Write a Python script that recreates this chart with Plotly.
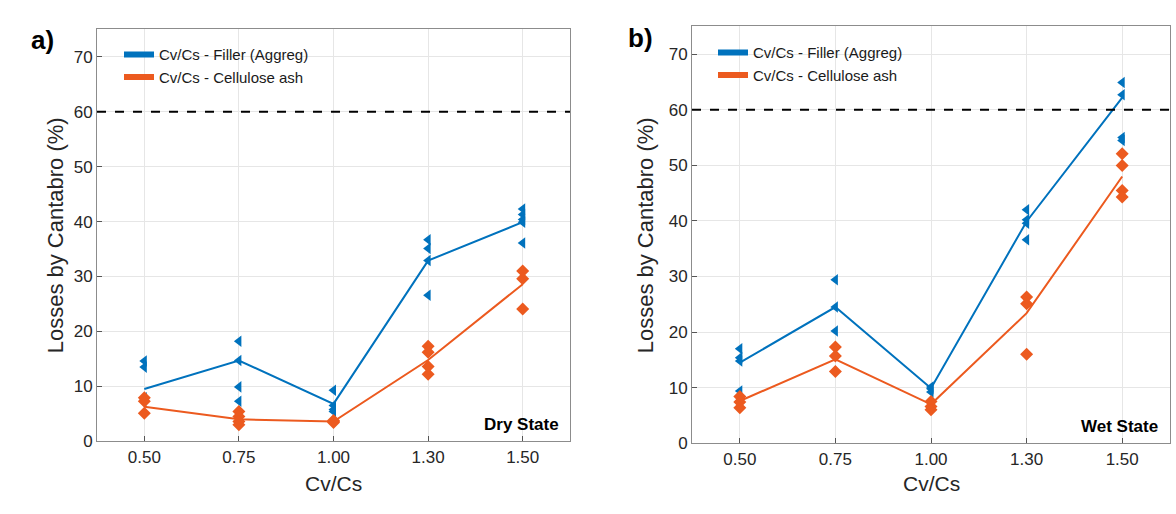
import plotly.graph_objects as go

categories = ["0.50", "0.75", "1.00", "1.30", "1.50"]
y_ticks = [0, 10, 20, 30, 40, 50, 60, 70]
limit_value = 60

# Dry state (panel a)
dry_filler_pts = {
    "0.50": [14.6, 13.5, 7.9, 7.5],
    "0.75": [18.2, 14.7, 9.9, 7.3],
    "1.00": [9.3, 6.5, 5.8, 5.4],
    "1.30": [36.7, 35.1, 32.9, 26.6],
    "1.50": [42.3, 41.3, 40.4, 39.9, 36.1],
}
dry_filler_line = [9.5, 14.7, 6.8, 32.9, 39.9]
dry_ash_pts = {
    "0.50": [7.9, 7.3, 5.1],
    "0.75": [5.4, 4.5, 3.6, 3.0],
    "1.00": [3.8, 3.6, 3.4],
    "1.30": [17.3, 16.2, 13.6, 12.2],
    "1.50": [31.0, 29.6, 24.1],
}
dry_ash_line = [6.3, 4.0, 3.6, 14.8, 28.6]

# Wet state (panel b)
wet_filler_pts = {
    "0.50": [17.0, 15.4, 14.8, 9.4],
    "0.75": [29.4, 24.5, 20.2],
    "1.00": [10.1, 9.8, 9.2],
    "1.30": [42.0, 40.2, 39.6, 36.6],
    "1.50": [64.9, 62.7, 55.0, 54.5],
}
wet_filler_line = [14.5, 24.5, 9.9, 39.9, 62.2]
wet_ash_pts = {
    "0.50": [8.4, 7.4, 6.4],
    "0.75": [17.3, 15.7, 12.9],
    "1.00": [7.5, 6.6, 6.0],
    "1.30": [26.3, 25.1, 16.0],
    "1.50": [52.1, 50.0, 45.5, 44.3],
}
wet_ash_line = [7.6, 15.1, 7.0, 23.4, 48.0]

legend_names = ["Cv/Cs - Filler (Aggreg)", "Cv/Cs - Cellulose ash"]
x_title = "Cv/Cs"
y_title = "Losses by Cantabro (%)"

BLUE = "#0072BD"
ORANGE = "#EC5A1F"
FONT = "Liberation Sans, Arial, Helvetica, sans-serif"

fig = go.Figure()

def flatten(pts):
    xs, ys = [], []
    for c in categories:
        for v in pts[c]:
            xs.append(c)
            ys.append(v)
    return xs, ys

panels = [
    ("x", "y", "legend", dry_filler_pts, dry_filler_line, dry_ash_pts, dry_ash_line),
    ("x2", "y2", "legend2", wet_filler_pts, wet_filler_line, wet_ash_pts, wet_ash_line),
]

shapes = []
for xa, ya, lg, fpts, fline, apts, aline in panels:
    # 60% limit line
    shapes.append(dict(type="line", xref=f"{xa} domain", yref=ya, x0=0, x1=1,
                       y0=limit_value, y1=limit_value, layer="above",
                       line=dict(color="black", width=2, dash="dash")))
    for pts, line, color, sym, name in [
        (fpts, fline, BLUE, "triangle-left", legend_names[0]),
        (apts, aline, ORANGE, "diamond", legend_names[1]),
    ]:
        fig.add_trace(go.Scatter(
            x=categories, y=line, mode="lines", xaxis=xa, yaxis=ya,
            line=dict(color=color, width=2), showlegend=False, hoverinfo="skip"))
        xs, ys = flatten(pts)
        fig.add_trace(go.Scatter(
            x=xs, y=ys, mode="markers", xaxis=xa, yaxis=ya,
            marker=dict(symbol=sym, size=10, color=color, line=dict(width=0)),
            showlegend=False))
    # legend entries (thick short lines)
    for color, name in [(BLUE, legend_names[0]), (ORANGE, legend_names[1])]:
        fig.add_trace(go.Scatter(
            x=[None], y=[None], mode="lines", xaxis=xa, yaxis=ya,
            line=dict(color=color, width=6), name=name, legend=lg))

W, H = 1176, 514

def px_x(a, b):
    return [a / W, b / W]

def px_y(top, bottom):
    return [(H - bottom) / H, (H - top) / H]

axis_common = dict(
    showgrid=True, gridcolor="#E6E6E6", gridwidth=1,
    showline=True, linecolor="#8C8C8C", linewidth=1, mirror=True,
    ticks="inside", ticklen=5, tickcolor="#555555",
    tickfont=dict(family=FONT, size=17, color="#262626"),
    zeroline=False,
)

fig.update_layout(
    width=W, height=H,
    margin=dict(l=0, r=0, t=0, b=0),
    paper_bgcolor="white", plot_bgcolor="white",
    font=dict(family=FONT, color="#262626"),
    xaxis=dict(domain=px_x(97, 570), type="category", categoryorder="array",
               categoryarray=categories, range=[-0.5, 4.5], anchor="y", **axis_common),
    yaxis=dict(domain=px_y(30, 450), range=[0, 75], tickvals=y_ticks, anchor="x",
               **axis_common),
    xaxis2=dict(domain=px_x(692, 1170), type="category", categoryorder="array",
                categoryarray=categories, range=[-0.5, 4.5], anchor="y2", **axis_common),
    yaxis2=dict(domain=px_y(27, 452), range=[0, 75], tickvals=y_ticks, anchor="x2",
                **axis_common),
    legend=dict(x=119 / W, y=(H - 39) / H, xanchor="left", yanchor="top",
                bgcolor="rgba(0,0,0,0)", font=dict(family=FONT, size=15, color="#1a1a1a"),
                tracegroupgap=0, itemwidth=30),
    legend2=dict(x=713 / W, y=(H - 37) / H, xanchor="left", yanchor="top",
                 bgcolor="rgba(0,0,0,0)", font=dict(family=FONT, size=15, color="#1a1a1a"),
                 tracegroupgap=0, itemwidth=30),
    showlegend=True,
    shapes=shapes,
)

annotations = [
    dict(text="<b>a)</b>", x=29 / W, y=(H - 41) / H, xanchor="left", yanchor="middle",
         font=dict(size=26, color="black")),
    dict(text="<b>b)</b>", x=626 / W, y=(H - 39) / H, xanchor="left", yanchor="middle",
         font=dict(size=26, color="black")),
    dict(text=y_title, x=55 / W, y=(H - 240) / H, textangle=-90, xanchor="center",
         yanchor="middle", font=dict(size=22, color="#262626")),
    dict(text=y_title, x=645 / W, y=(H - 240) / H, textangle=-90, xanchor="center",
         yanchor="middle", font=dict(size=22, color="#262626")),
    dict(text=x_title, x=333 / W, y=(H - 493) / H, xanchor="center", yanchor="middle",
         font=dict(size=21, color="#262626")),
    dict(text=x_title, x=931 / W, y=(H - 493) / H, xanchor="center", yanchor="middle",
         font=dict(size=21, color="#262626")),
    dict(text="<b>Dry State</b>", x=561 / W, y=(H - 433) / H, xanchor="right",
         yanchor="middle", font=dict(size=17, color="black")),
    dict(text="<b>Wet State</b>", x=1160 / W, y=(H - 435) / H, xanchor="right",
         yanchor="middle", font=dict(size=17, color="black")),
]
for a in annotations:
    a.update(xref="paper", yref="paper", showarrow=False)
fig.update_layout(annotations=annotations)

fig.write_html("out.html")
